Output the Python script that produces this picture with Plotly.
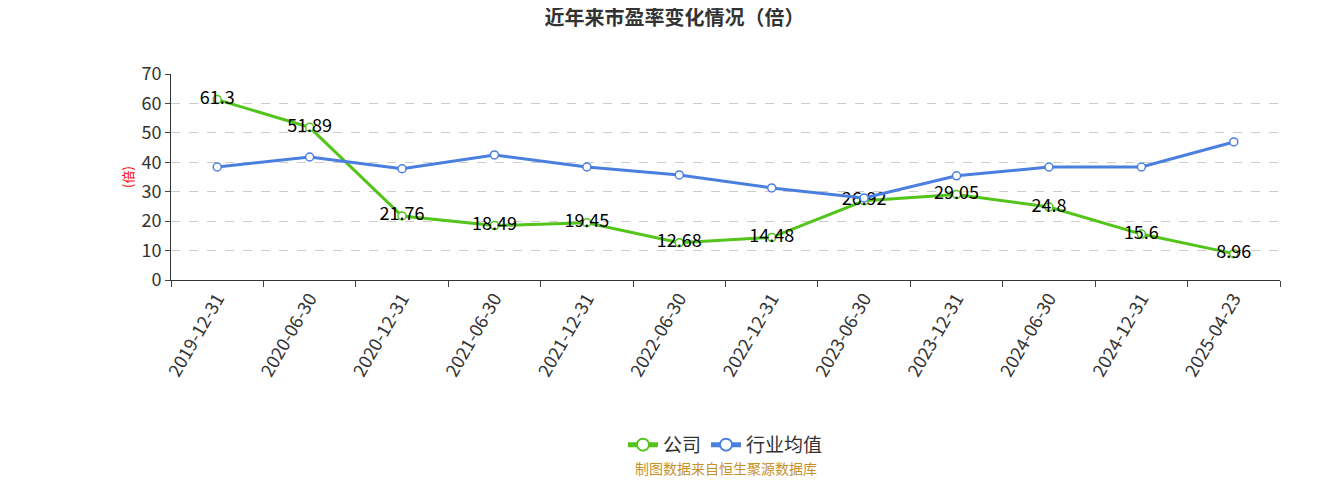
import plotly.graph_objects as go

dates = ["2019-12-31","2020-06-30","2020-12-31","2021-06-30","2021-12-31","2022-06-30",
         "2022-12-31","2023-06-30","2023-12-31","2024-06-30","2024-12-31","2025-04-23"]
company = [61.3, 51.89, 21.76, 18.49, 19.45, 12.68, 14.48, 26.92, 29.05, 24.8, 15.6, 8.96]
industry = [38.4, 41.8, 37.8, 42.5, 38.4, 35.7, 31.3, 27.9, 35.4, 38.4, 38.4, 46.9]

fig = go.Figure()
fig.add_trace(go.Scatter(x=dates, y=company, name="公司", mode="lines+markers+text",
    text=[str(v) for v in company], textposition="middle center",
    textfont=dict(size=18, color="#000"),
    line=dict(color="#52c41a", width=3),
    marker=dict(symbol="circle", size=8, color="white", line=dict(color="#52c41a", width=1.5))))
fig.add_trace(go.Scatter(x=dates, y=industry, name="行业均值", mode="lines+markers",
    line=dict(color="#4a7fe0", width=3),
    marker=dict(symbol="circle", size=8, color="white", line=dict(color="#4a7fe0", width=1.5))))

fig.update_layout(
    width=1333, height=500, plot_bgcolor="white", paper_bgcolor="white",
    font=dict(family="Noto Sans CJK SC", color="#333"),
    margin=dict(l=163, r=61, t=66, b=228, autoexpand=False),
    title=dict(text="<b>近年来市盈率变化情况（倍）</b>", x=0.5, xanchor="center", y=0.995, yanchor="top",
               font=dict(size=20, color="#333")),
    legend=dict(orientation="h", x=0.5, xanchor="center", y=-0.8, yanchor="middle",
                font=dict(size=19, color="#333"), itemsizing="constant"),
    xaxis=dict(type="category", range=[-0.5, 11.5], tickangle=-60, tickson="boundaries",
               ticks="outside", ticklen=6, showline=True, linecolor="#333", showgrid=False,
               tickfont=dict(size=18, color="#333"), automargin=False),
    yaxis=dict(range=[0, 70], dtick=10, showline=True, linecolor="#333", ticks="outside", ticklen=5,
               showgrid=True, gridcolor="#ccc", griddash="dash", zeroline=False,
               tickfont=dict(size=18, color="#333"), automargin=False,
               title=dict(text="(倍)", font=dict(size=13, color="red"), standoff=4)),
    annotations=[dict(text="制图数据来自恒生聚源数据库", xref="paper", yref="paper", x=0.5, y=-0.97,
                      showarrow=False, font=dict(size=14, color="#c8902a"))],
)
fig.write_html("out.html")
